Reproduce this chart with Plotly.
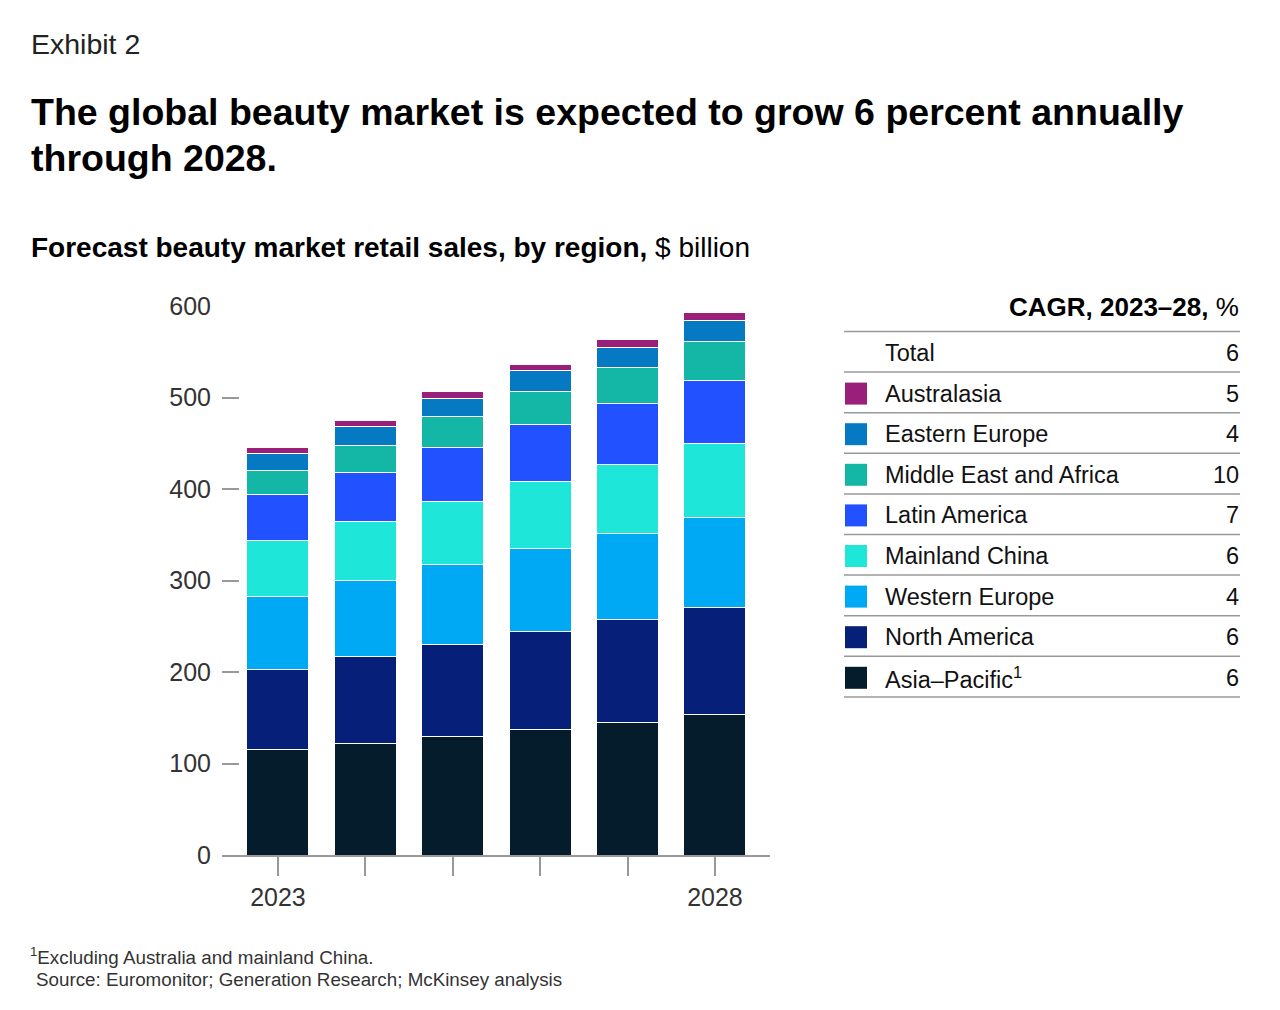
import plotly.graph_objects as go

# data ($ billion)
years = [2023, 2024, 2025, 2026, 2027, 2028]
asia_pacific = [115, 122, 130, 137, 145, 154]
north_america = [88, 95, 100, 107, 112, 117]
western_europe = [79, 83, 88, 91, 94, 98]
mainland_china = [62, 64, 68, 73, 76, 81]
latin_america = [50, 54, 59, 62, 66, 69]
middle_east_africa = [26, 30, 34, 37, 40, 42]
eastern_europe = [19, 20, 20, 22, 22, 23]
australasia = [6, 7, 8, 7, 8, 9]

regions = ["Asia–Pacific", "North America", "Western Europe", "Mainland China",
           "Latin America", "Middle East and Africa", "Eastern Europe", "Australasia"]
values = [asia_pacific, north_america, western_europe, mainland_china,
          latin_america, middle_east_africa, eastern_europe, australasia]
colors = ["#051c2c", "#061f79", "#00a9f4", "#1ee6d8",
          "#2251ff", "#14b7a6", "#0679c3", "#9a1f7b"]

# CAGR table, top to bottom
cagr_labels = ["Total", "Australasia", "Eastern Europe", "Middle East and Africa",
               "Latin America", "Mainland China", "Western Europe", "North America",
               "Asia–Pacific<sup>1</sup>"]
cagr_values = [6, 5, 4, 10, 7, 6, 4, 6, 6]
cagr_colors = [None, "#9a1f7b", "#0679c3", "#14b7a6", "#2251ff", "#1ee6d8",
               "#00a9f4", "#061f79", "#051c2c"]

W, H = 1280, 1010
L, R, T, B = 222, 770, 306, 855
FONT = "Liberation Sans"


def px(x):
    return (x - L) / (R - L)


def py(y):
    return (B - y) / (B - T)


fig = go.Figure()
for name, vals, col in zip(regions, values, colors):
    fig.add_trace(go.Bar(x=years, y=vals, name=name, marker_color=col,
                         marker_line_color="white", marker_line_width=1))

fig.update_layout(
    barmode="stack", bargap=0.29, width=W, height=H,
    margin=dict(l=L, r=W - R, t=T, b=H - B),
    plot_bgcolor="white", paper_bgcolor="white", showlegend=False,
    font=dict(family=FONT, color="#333333"),
)
fig.update_xaxes(range=[2022.36, 2028.63], tickvals=[2023, 2028],
                 showline=True, linecolor="#999999", linewidth=1.5,
                 ticks="outside", ticklen=19, tickcolor="#999999", tickwidth=1.5,
                 minor=dict(ticks="outside", ticklen=19, tickcolor="#999999",
                            tickwidth=1.5, dtick=1, tick0=2023, showgrid=False),
                 ticklabelstandoff=0,
                 tickfont=dict(size=25, color="#333333"), showgrid=False, zeroline=False)
fig.update_yaxes(range=[0, 600], tickvals=[0, 100, 200, 300, 400, 500, 600],
                 ticks="inside", ticklen=17, tickcolor="#999999", tickwidth=1.5,
                 ticklabelstandoff=10, tickfont=dict(size=25, color="#333333"),
                 showgrid=False, zeroline=False, showline=False)

ann = []


def text(x, y, s, size, anchor="left", color="#000000", family=FONT):
    ann.append(dict(x=px(x), y=py(y), xref="paper", yref="paper", text=s,
                    showarrow=False, xanchor=anchor, yanchor="middle", borderpad=0,
                    font=dict(size=size, color=color, family=family)))


text(30, 44, "Exhibit 2", 28.5, color="#222222")
text(30, 112, "<b>The global beauty market is expected to grow 6 percent annually</b>", 37.5)
text(30, 158, "<b>through 2028.</b>", 37.5)
text(30, 247, "<b>Forecast beauty market retail sales, by region,</b> $ billion", 28)
text(1240, 307, "<b>CAGR, 2023–28,</b> %", 26, anchor="right")

row0, step = 353, 40.6
for i, (lab, v, c) in enumerate(zip(cagr_labels, cagr_values, cagr_colors)):
    yc = row0 + i * step
    text(884, yc, lab, 23.5, color="#111111")
    text(1240, yc, str(v), 23.5, anchor="right", color="#111111")
    if c:
        fig.add_shape(type="rect", xref="paper", yref="paper",
                      x0=px(845), x1=px(867), y0=py(yc - 11), y1=py(yc + 11),
                      fillcolor=c, line_width=0)

for k in range(10):
    yl = 331.5 + k * step
    fig.add_shape(type="line", xref="paper", yref="paper",
                  x0=px(844), x1=px(1240), y0=py(yl), y1=py(yl),
                  line=dict(color="#999999", width=1.5))

text(29, 956, "<sup>1</sup>Excluding Australia and mainland China.", 18.8, color="#333333")
text(35, 979, "Source: Euromonitor; Generation Research; McKinsey analysis", 18.8, color="#333333")

fig.update_layout(annotations=ann)
fig.write_html("out.html", config={"displayModeBar": False},
               post_script="document.body.style.margin='0';")
